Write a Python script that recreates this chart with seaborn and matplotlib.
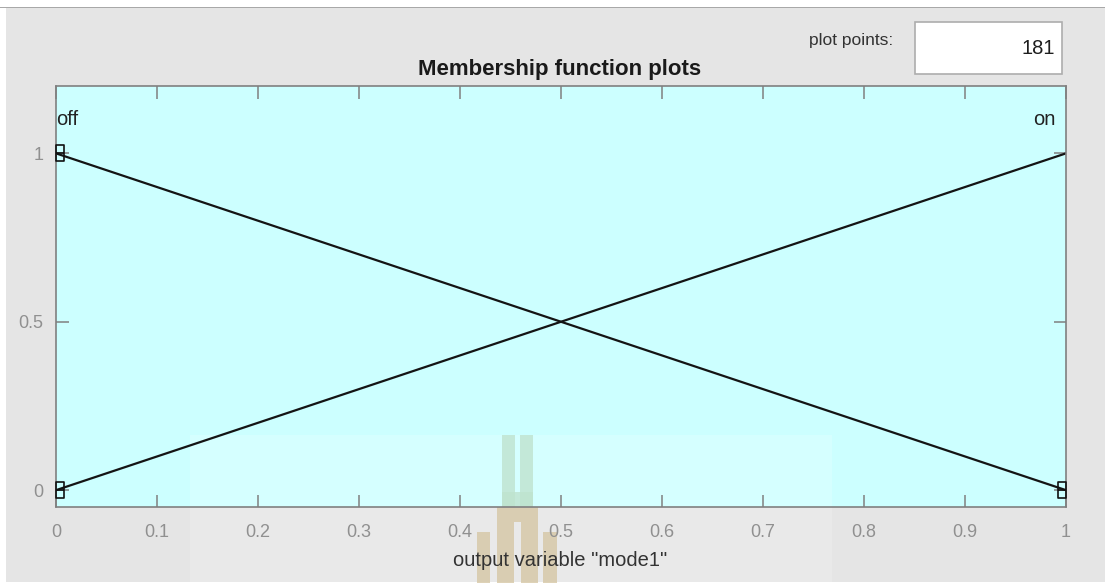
import matplotlib
matplotlib.use("Agg")
import matplotlib.pyplot as plt
import pandas as pd
import seaborn as sns
from matplotlib.patches import Rectangle
from matplotlib.path import Path

# Membership functions of the output variable (triangular, vertices only)
mf_names = ["off", "on"]
x_points = [0.0, 1.0]
off_values = [1.0, 0.0]
on_values = [0.0, 1.0]

# Vertex handles drawn as small stacked squares
handle_x = [0.0, 0.0, 1.0]
handle_y = [1.0, 0.0, 0.0]

x_ticks = [0, 0.1, 0.2, 0.3, 0.4, 0.5, 0.6, 0.7, 0.8, 0.9, 1]
x_tick_labels = ["0", "0.1", "0.2", "0.3", "0.4", "0.5", "0.6", "0.7", "0.8", "0.9", "1"]
y_ticks = [0, 0.5, 1]
y_tick_labels = ["0", "0.5", "1"]

plot_points = 181
title_text = "Membership function plots"
xlabel_text = 'output variable "mode1"'

W, H = 1105, 583

sns.set_style("ticks")
plt.rcParams["font.family"] = ["Liberation Sans", "DejaVu Sans"]

df = pd.DataFrame({
    "x": x_points * 2,
    "mu": off_values + on_values,
    "mf": [mf_names[0]] * len(x_points) + [mf_names[1]] * len(x_points),
})

fig = plt.figure(figsize=(W / 100, H / 100), dpi=100, facecolor="white")


def fx(px):
    return px / W


def fy(py):
    return 1 - py / H


def add_rect(x0, y0, x1, y1, **kw):
    fig.patches.append(Rectangle((fx(x0), fy(y1)), fx(x1) - fx(x0), fy(y0) - fy(y1),
                                 transform=fig.transFigure, **kw))


# Panel background and separator line
add_rect(6, 8, W, 582, facecolor="#e5e5e5", edgecolor="none", zorder=-3)
add_rect(0, 6.8, W, 8.3, facecolor="#a8a8a8", edgecolor="none", zorder=-2.9)

AX_L, AX_T, AX_R, AX_B = 56, 86, 1066, 507
# Plot area background (kept beneath the emblem so ticks and labels stay on top)
add_rect(AX_L, AX_T, AX_R, AX_B, facecolor="#ccffff", edgecolor="none", zorder=-2)

# Faint watermark band and pillar emblem
add_rect(190, 435, 832, 583, facecolor="white", alpha=0.18, edgecolor="none", zorder=-1.5)
green = "#bfe3cf"
tan = "#d6c7a5"
emblem = [
    (502, 435, 515, 507, green), (520, 435, 533, 507, green),
    (502, 492, 533, 507, green),
    (497, 507, 538, 522, tan), (497, 522, 514, 583, tan), (521, 522, 538, 583, tan),
    (477, 532, 490, 583, tan), (543, 532, 557, 583, tan),
]
for x0, y0, x1, y1, c in emblem:
    add_rect(x0, y0, x1, y1, facecolor=c, alpha=0.8, edgecolor="none", zorder=-1)

ax = fig.add_axes([fx(AX_L), fy(AX_B), fx(AX_R) - fx(AX_L), fy(AX_T) - fy(AX_B)])
ax.patch.set_visible(False)

sns.lineplot(data=df, x="x", y="mu", hue="mf",
             palette={"off": "#141414", "on": "#141414"},
             legend=False, linewidth=1.6, ax=ax)

# Handle markers: two stacked squares, sitting inside the axes edge
left_marker = Path([(0, -1), (1, -1), (1, 1), (0, 1), (0, -1), (0, 0), (1, 0)],
                   [Path.MOVETO, Path.LINETO, Path.LINETO, Path.LINETO,
                    Path.CLOSEPOLY, Path.MOVETO, Path.LINETO])
right_marker = Path([(0, -1), (-1, -1), (-1, 1), (0, 1), (0, -1), (0, 0), (-1, 0)],
                    [Path.MOVETO, Path.LINETO, Path.LINETO, Path.LINETO,
                     Path.CLOSEPOLY, Path.MOVETO, Path.LINETO])
for hx, hy in zip(handle_x, handle_y):
    ax.plot([hx], [hy], linestyle="none",
            marker=left_marker if hx == 0 else right_marker,
            markersize=11, markerfacecolor="none", markeredgecolor="#111111",
            markeredgewidth=1.2, clip_on=False, zorder=5)

ax.set_xlim(0, 1)
ax.set_ylim(-0.05, 1.2)
ax.set_xticks(x_ticks, x_tick_labels)
ax.set_yticks(y_ticks, y_tick_labels)
ax.set_xlabel("")
ax.set_ylabel("")
ax.tick_params(axis="both", direction="in", length=9, width=1.1, color="#808080",
               labelcolor="#909090", labelsize=13, top=True, right=True)
ax.tick_params(axis="x", pad=12)
ax.tick_params(axis="y", pad=9)
for sp in ax.spines.values():
    sp.set_visible(True)
    sp.set_color("#808080")
    sp.set_linewidth(1.2)

# Membership function names
ax.text(0.0, 1.1, mf_names[0], ha="left", va="center", fontsize=14.5, color="#222222")
ax.text(0.99, 1.1, mf_names[1], ha="right", va="center", fontsize=14.5, color="#222222")

fig.text(fx(560), fy(69), title_text, ha="center", va="center",
         fontsize=16, fontweight="bold", color="#1a1a1a")
fig.text(fx(560), fy(561), xlabel_text, ha="center", va="center",
         fontsize=14.5, color="#333333")

# Plot points entry box
add_rect(915, 22, 1062, 74, facecolor="white", edgecolor="#adadad", linewidth=1.2, zorder=2)
fig.text(fx(851), fy(41), "plot points:", ha="center", va="center",
         fontsize=12.5, color="#333333", zorder=3)
fig.text(fx(1055), fy(48), str(plot_points), ha="right", va="center",
         fontsize=14.5, color="#1e1e1e", zorder=3)

fig.savefig("out.png", dpi=100, facecolor="white")
